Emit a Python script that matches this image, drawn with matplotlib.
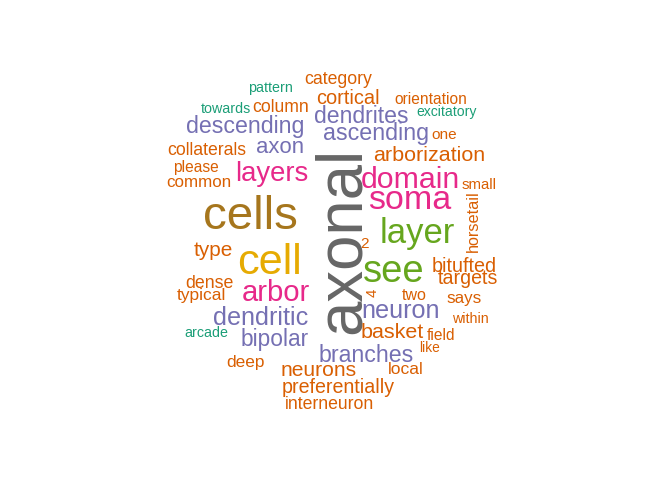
import matplotlib
matplotlib.use("Agg")
import matplotlib.pyplot as plt

# paleta Dark2
cores = {
    "teal": "#1B9E77", "laranja": "#D95F02", "roxo": "#7570B3", "rosa": "#E7298A",
    "verde": "#66A61E", "amarelo": "#E6AB02", "marrom": "#A6761D", "cinza": "#666666",
}

# palavras, peso (tamanho relativo) e grupo de cor
palavras = [
    "axonal", "cells", "cell", "soma", "layer", "see", "domain", "arbor", "layers",
    "dendritic", "neuron", "descending", "dendrites", "ascending", "branches", "axon",
    "bipolar", "arborization", "basket", "neurons", "type", "cortical", "preferentially",
    "bitufted", "targets", "category", "column", "collaterals", "dense", "interneuron",
    "typical", "common", "deep", "local", "says", "two", "horsetail", "orientation",
    "please", "one", "field", "small", "4", "2", "within", "like", "pattern", "towards",
    "excitatory", "arcade",
]
pesos = [
    63.5, 47.5, 43.3, 34, 34.6, 38.3, 30.2, 29.3, 27.5,
    25.1, 25.2, 23.1, 23.0, 23.2, 23.1, 22.1,
    22.8, 21.5, 21.5, 21.0, 20.8, 20.0, 19.7,
    19.8, 19.6, 17.6, 17.6, 17.6, 17.7, 17.6,
    17.4, 17.0, 17.2, 17.5, 17.0, 16.0, 16.3, 15.5,
    15.5, 15.4, 15.5, 15.0, 15.0, 15.4, 14.3, 13.8, 14.3, 14.2,
    14.0, 14.2,
]
grupos = [
    "cinza", "marrom", "amarelo", "rosa", "verde", "verde", "rosa", "rosa", "rosa",
    "roxo", "roxo", "roxo", "roxo", "roxo", "roxo", "roxo",
    "roxo", "laranja", "laranja", "laranja", "laranja", "laranja", "laranja",
    "laranja", "laranja", "laranja", "laranja", "laranja", "laranja", "laranja",
    "laranja", "laranja", "laranja", "laranja", "laranja", "laranja", "laranja", "laranja",
    "laranja", "laranja", "laranja", "laranja", "laranja", "laranja", "laranja", "laranja",
    "teal", "teal", "teal", "teal",
]

# layout da nuvem: (x centro, y da linha de base) em pixels, e rotacao
layout = {
    "axonal": (359.3, 240.8, 90), "cells": (250.8, 229, 0), "cell": (269.2, 274, 0),
    "soma": (410, 209, 0), "layer": (417.5, 243.3, 0), "see": (394.2, 281.7, 0),
    "domain": (410.5, 188.3, 0), "arbor": (275.8, 301, 0), "layers": (271.7, 180.7, 0),
    "dendritic": (260.8, 325, 0), "neuron": (400.8, 318.3, 0),
    "descending": (244.8, 133.3, 0), "dendrites": (361.7, 122.7, 0),
    "ascending": (376.3, 140, 0), "branches": (365.8, 361.7, 0), "axon": (280, 153.3, 0),
    "bipolar": (274.2, 346, 0), "arborization": (429.5, 161, 0), "basket": (392.3, 338.3, 0),
    "neurons": (318.8, 376, 0), "type": (213, 255.7, 0), "cortical": (348.3, 104.3, 0),
    "preferentially": (338.7, 392.7, 0), "bitufted": (464.2, 271.7, 0),
    "targets": (468.3, 284, 0), "category": (338, 84, 0), "column": (281, 111.7, 0),
    "collaterals": (207, 155, 0), "dense": (209.2, 287.7, 0), "interneuron": (329.5, 409.3, 0),
    "typical": (201.3, 300, 0), "common": (199.2, 186.7, 0), "deep": (245.8, 366.7, 0),
    "local": (405.3, 374.3, 0), "says": (464.2, 303.3, 0), "two": (414.2, 300, 0),
    "horsetail": (478.3, 220.8, 90), "orientation": (430.5, 104, 0), "please": (196.2, 171.7, 0),
    "one": (444.5, 139.3, 0), "field": (440.8, 340, 0), "small": (479, 189.3, 0),
    "4": (376.7, 292.5, 90), "2": (364.7, 248.3, 0), "within": (470, 323.3, 0),
    "like": (429.7, 352.3, 0), "pattern": (270, 92.3, 0), "towards": (226, 112.7, 0),
    "excitatory": (446.7, 115.7, 0), "arcade": (206.7, 337.3, 0),
}

fig = plt.figure(figsize=(6.72, 4.8), dpi=100)
ax = fig.add_axes([0, 0, 1, 1])
ax.set_xlim(0, 672)
ax.set_ylim(480, 0)
ax.axis("off")

for palavra, peso, grupo in zip(palavras, pesos, grupos):
    x, y, rot = layout[palavra]
    # peso em pixels de em -> pontos (dpi 100)
    ax.text(x, y, palavra, fontsize=peso * 0.72, color=cores[grupo],
            family="Liberation Sans", ha="center", va="baseline",
            rotation=rot, rotation_mode="anchor")

fig.savefig("out.png", dpi=100, facecolor="white")
